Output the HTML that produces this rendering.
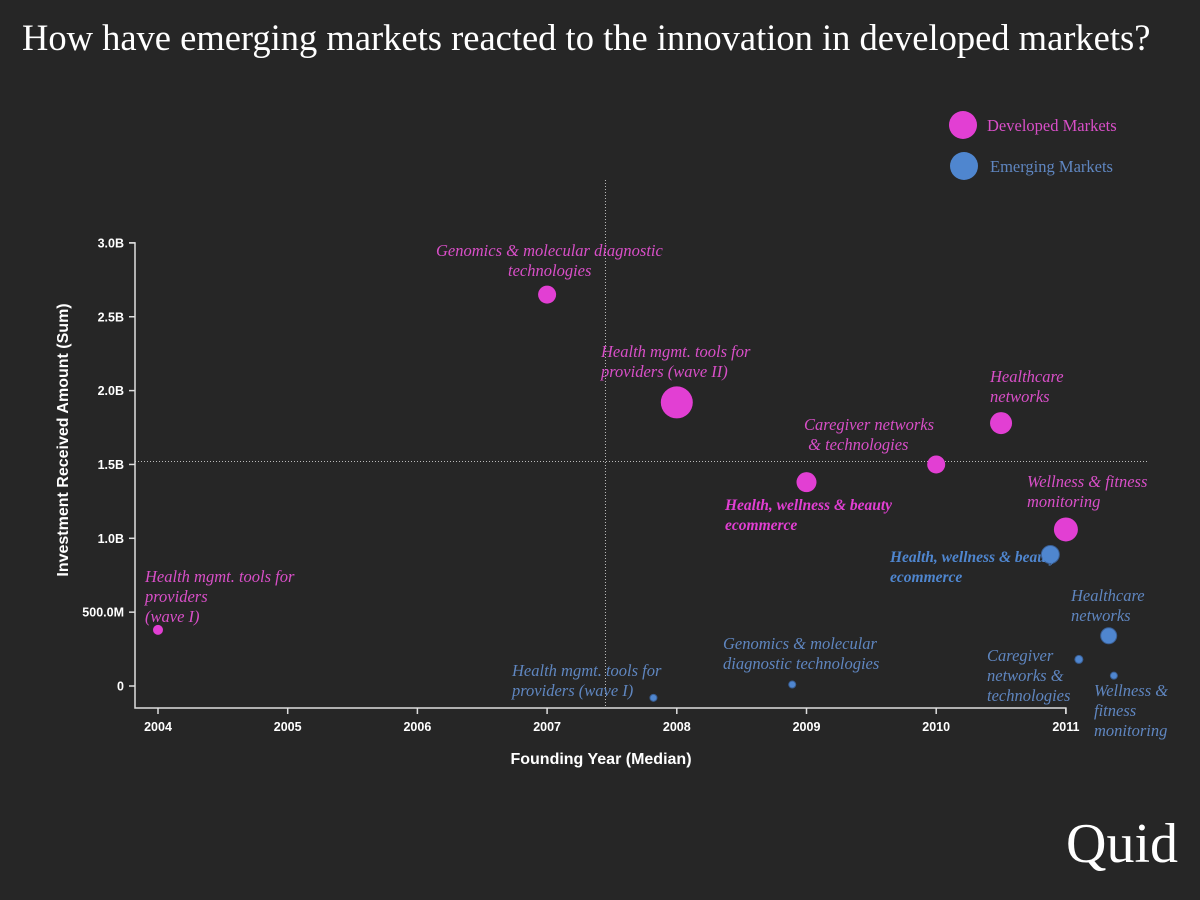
<!DOCTYPE html>
<html><head><meta charset="utf-8"><style>
body{margin:0;background:#262626;}
svg{display:block}
</style></head><body>
<svg id="chart" width="1200" height="900" xmlns="http://www.w3.org/2000/svg">
<rect width="1200" height="900" fill="#262626"/>
<text x="22" y="50" font-family="Liberation Serif, serif" font-size="36.5" fill="#ffffff">How have emerging markets reacted to the innovation in developed markets?</text>
<g>
<circle cx="963" cy="125" r="14" fill="#e23fd3"/>
<text x="987" y="131" font-family="Liberation Serif, serif" font-size="16.5" fill="#d94fc8">Developed Markets</text>
<circle cx="964" cy="166" r="14" fill="#4f86cf"/>
<text x="990" y="172" font-family="Liberation Serif, serif" font-size="16.5" fill="#5f86c0">Emerging Markets</text>
</g>
<g id="axes"></g>
<g id="marks"></g>
<g id="labels"></g>
<text x="1178" y="862" text-anchor="end" font-family="Liberation Serif, serif" font-size="56" fill="#ffffff">Quid</text>
</svg>
<script>
const yTicks=[0,0.5,1.0,1.5,2.0,2.5,3.0];
const yTickLabels=["0","500.0M","1.0B","1.5B","2.0B","2.5B","3.0B"];
const xTicks=[2004,2005,2006,2007,2008,2009,2010,2011];
const devYears=[2004,2007,2008,2009,2010,2010.5,2011];
const devValues=[0.38,2.65,1.92,1.38,1.50,1.78,1.06];
const devSizes=[5,9,16,10,9,11,12];
const emYears=[2007.82,2008.89,2010.88,2011.33,2011.1,2011.37];
const emValues=[-0.08,0.01,0.89,0.34,0.18,0.07];
const emSizes=[3.5,3.5,9,8,4,3.5];
const refX=2007.45, refY=1.52;

const X=v=>158+(v-2004)*129.7;
const Y=v=>686-v*147.7;
const NS="http://www.w3.org/2000/svg";
function mk(parent,tag,attrs){const e=document.createElementNS(NS,tag);for(const k in attrs)e.setAttribute(k,attrs[k]);document.getElementById(parent).appendChild(e);return e;}
const sans="Liberation Sans, Arial, sans-serif", serif="Liberation Serif, serif";
let e;
e=mk('axes','line',{x1:X(refX),x2:X(refX),y1:180,y2:708,stroke:'#bbbbbb','stroke-width':1,'stroke-dasharray':'1,2'});


e=mk('axes','line',{x1:135,x2:1147,y1:Y(refY),y2:Y(refY),stroke:'#bbbbbb','stroke-width':1,'stroke-dasharray':'1,2'});


e=mk('axes','path',{d:`M129,${Y(3)}H135V708H${X(2011)}V714`,fill:'none',stroke:'#dddddd','stroke-width':1.5});


yTicks.forEach((t,i)=>{
 e=mk('axes','line',{x1:129,x2:135,y1:Y(t),y2:Y(t),stroke:'#dddddd','stroke-width':1.5});
 
 
 e=mk('axes','text',{x:124,y:Y(t)+4.5,'text-anchor':'end','font-family':sans,'font-size':12.5,'font-weight':'bold',fill:'#ffffff'});
 e.textContent=yTickLabels[i];
 
 
});
xTicks.forEach(t=>{
 e=mk('axes','line',{x1:X(t),x2:X(t),y1:708,y2:714,stroke:'#dddddd','stroke-width':1.5});
 
 
 e=mk('axes','text',{x:X(t),y:731,'text-anchor':'middle','font-family':sans,'font-size':12.5,'font-weight':'bold',fill:'#ffffff'});
 e.textContent=t;
 
 
});
e=mk('axes','text',{x:601,y:764,'text-anchor':'middle','font-family':sans,'font-size':16,'font-weight':'bold',fill:'#ffffff'});
e.textContent='Founding Year (Median)';


e=mk('axes','text',{x:0,y:0,transform:'translate(68,440) rotate(-90)','text-anchor':'middle','font-family':sans,'font-size':16,'font-weight':'bold',fill:'#ffffff'});
e.textContent='Investment Received Amount (Sum)';


devYears.forEach((yr,i)=>{
 e=mk('marks','circle',{cx:X(yr),cy:Y(devValues[i]),r:devSizes[i],fill:'#e23fd3'});
 
 
});
emYears.forEach((yr,i)=>{
 e=mk('marks','circle',{cx:X(yr),cy:Y(emValues[i]),r:emSizes[i],fill:'#4f86cf',stroke:'#3a5f94','stroke-width':1});
 
 
});
const labels=[
 [145,582,['Health mgmt. tools for','providers','(wave I)'],'#d94fc8',false,0],
 [436,256,['Genomics & molecular diagnostic','technologies'],'#d94fc8',false,72],
 [601,357,['Health mgmt. tools for','providers (wave II)'],'#d94fc8',false,0],
 [804,430,['Caregiver networks',' & technologies'],'#d94fc8',false,0],
 [990,382,['Healthcare','networks'],'#d94fc8',false,0],
 [1027,487,['Wellness & fitness','monitoring'],'#d94fc8',false,0],
 [725,510,['Health, wellness & beauty','ecommerce'],'#e23fd3',true,0],
 [890,562,['Health, wellness & beauty','ecommerce'],'#4f86cf',true,0],
 [512,676,['Health mgmt. tools for','providers (wave I)'],'#5f86c0',false,0],
 [723,649,['Genomics & molecular','diagnostic technologies'],'#5f86c0',false,0],
 [987,661,['Caregiver','networks &','technologies'],'#5f86c0',false,0],
 [1071,601,['Healthcare','networks'],'#5f86c0',false,0],
 [1094,696,['Wellness &','fitness','monitoring'],'#5f86c0',false,0]
];
labels.forEach(([x,y,lines,c,b,off])=>{
 e=mk('labels','text',{x:x,y:y,'font-family':serif,'font-size':b?15.5:16.5,'font-style':'italic','font-weight':b?'bold':'normal',fill:c,'xml:space':'preserve'});
 
 
 lines.forEach((l,j)=>{const s=document.createElementNS(NS,'tspan');s.setAttribute('x',x+(j?off:0));s.setAttribute('dy',j?20:0);s.textContent=l;e.appendChild(s);});
});
</script>
</body></html>
